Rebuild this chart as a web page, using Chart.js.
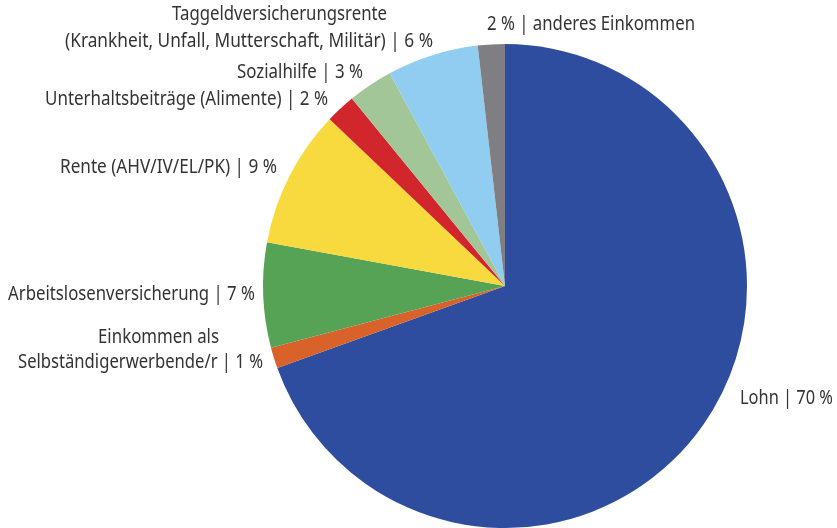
<!DOCTYPE html>
<html>
<head>
<meta charset="utf-8">
<script src="https://cdn.jsdelivr.net/npm/chart.js@4/dist/chart.umd.min.js"></script>
<style>
html,body{margin:0;padding:0;background:#fff;}
#wrap{width:837px;height:528px;position:relative;}
</style>
</head>
<body>
<div id="wrap"><canvas id="c" width="837" height="528"></canvas></div>
<script>
const categories = [
  "Lohn",
  "Einkommen als Selbständigerwerbende/r",
  "Arbeitslosenversicherung",
  "Rente (AHV/IV/EL/PK)",
  "Unterhaltsbeiträge (Alimente)",
  "Sozialhilfe",
  "Taggeldversicherungsrente (Krankheit, Unfall, Mutterschaft, Militär)",
  "anderes Einkommen"
];
const values = [69.5, 1.4, 7.0, 9.2, 2.0, 3.0, 6.1, 1.8];
const colors = ["#2E4D9E", "#D9622B", "#57A355", "#F8DA3F", "#D0262C", "#A3C699", "#91CCF1", "#7F7F83"];

// label text lines: text, left edge, right edge, vertical middle
const labelLines = [
  {t:"Lohn | 70 %", l:740, r:833, y:399},
  {t:"Einkommen als", l:98, r:219, y:338},
  {t:"Selbständigerwerbende/r | 1 %", l:18, r:263, y:363},
  {t:"Arbeitslosenversicherung | 7 %", l:8, r:255, y:295},
  {t:"Rente (AHV/IV/EL/PK) | 9 %", l:60, r:277, y:168},
  {t:"Unterhaltsbeiträge (Alimente) | 2 %", l:45, r:328, y:100},
  {t:"Sozialhilfe | 3 %", l:237, r:363, y:73},
  {t:"Taggeldversicherungsrente", l:172, r:387, y:15},
  {t:"(Krankheit, Unfall, Mutterschaft, Militär) | 6 %", l:65, r:433, y:42},
  {t:"2 % | anderes Einkommen", l:487, r:695, y:25}
];

const labelPlugin = {
  id: 'labels',
  afterDraw(chart) {
    const ctx = chart.ctx;
    ctx.save();
    ctx.fillStyle = "#333333";
    ctx.font = "19px 'Noto Sans', 'Open Sans', sans-serif";
    ctx.textBaseline = "middle";
    ctx.textAlign = "left";
    labelLines.forEach(l => {
      const w = ctx.measureText(l.t).width;
      const sx = (l.r - l.l) / w;
      ctx.save();
      ctx.translate(l.l, l.y);
      ctx.scale(sx, 1);
      ctx.fillText(l.t, 0, 0);
      ctx.restore();
    });
    ctx.restore();
  }
};

new Chart(document.getElementById('c'), {
  type: 'pie',
  data: {
    labels: categories,
    datasets: [{
      data: values,
      backgroundColor: colors,
      borderWidth: 0
    }]
  },
  options: {
    responsive: false,
    animation: false,
    layout: { padding: { top: 44, bottom: 0, left: 263, right: 90 } },
    plugins: { legend: { display: false }, tooltip: { enabled: false } }
  },
  plugins: [labelPlugin]
});
</script>
</body>
</html>
